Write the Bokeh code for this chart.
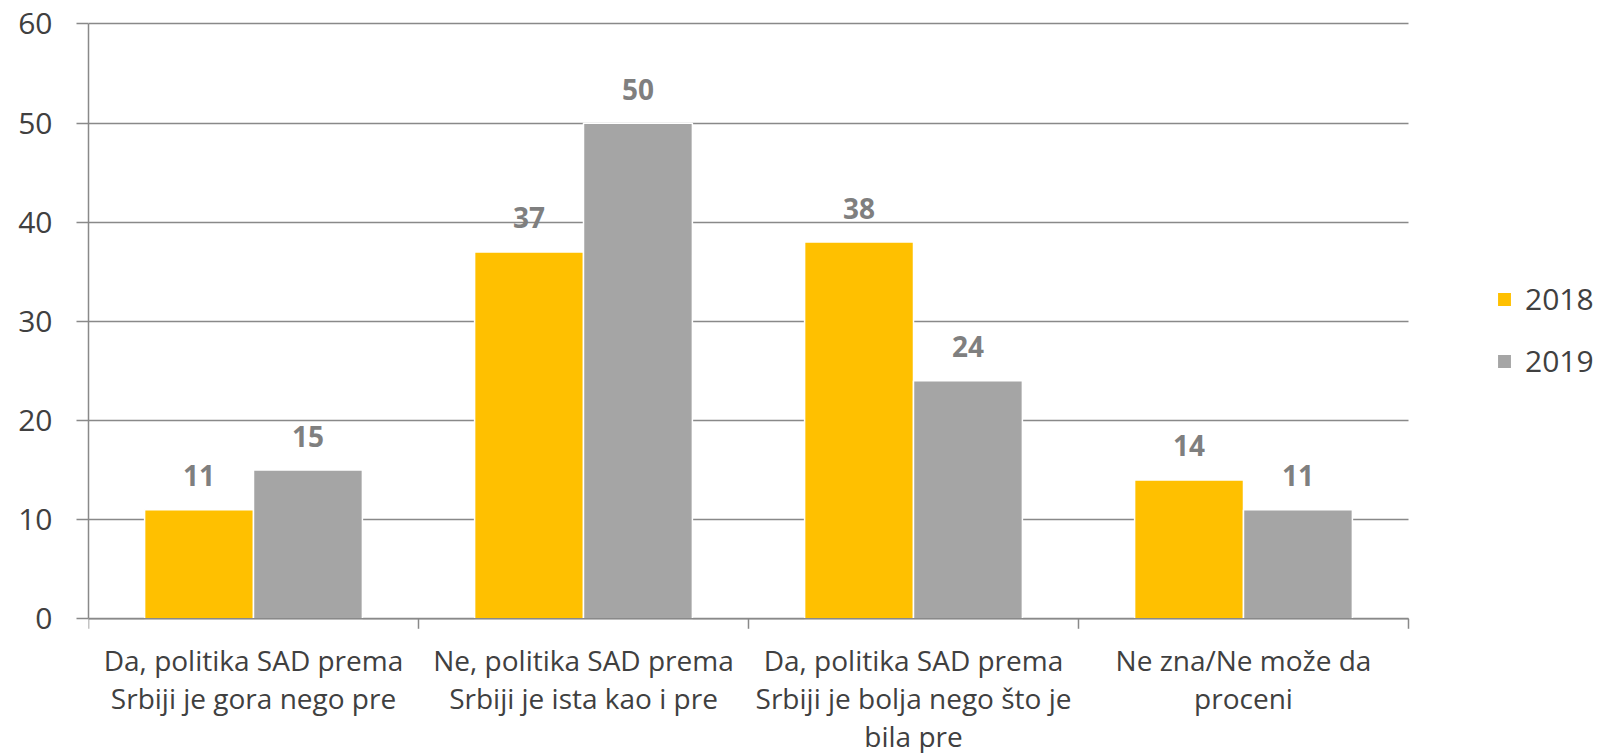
import math
from bokeh.plotting import figure
from bokeh.models import (ColumnDataSource, FixedTicker, Legend, LegendItem, Range1d, Grid)
from bokeh.core.properties import value
from bokeh.embed import file_html
from bokeh.resources import INLINE

categories = [
    "Da, politika SAD prema\nSrbiji je gora nego pre",
    "Ne, politika SAD prema\nSrbiji je ista kao i pre",
    "Da, politika SAD prema\nSrbiji je bolja nego što je\nbila pre",
    "Ne zna/Ne može da\nproceni",
]
series_names = ["2018", "2019"]
values_2018 = [11, 37, 38, 14]
values_2019 = [15, 50, 24, 11]
y_ticks = [0, 10, 20, 30, 40, 50, 60]

COL_2018 = "#FFC000"
COL_2019 = "#A5A5A5"
GRID = "#898989"
TXT = "#404040"
LBL = "#7F7F7F"
FONT = "Open Sans"

n = len(categories)
centers = [i + 0.5 for i in range(n)]
bounds_x = list(range(n + 1))
bw = 0.33

W, H = 1599, 753
p = figure(width=W, height=H, output_backend="svg", toolbar_location=None,
           x_axis_location=None,
           x_range=Range1d(0, 4.5788), y_range=Range1d(-13.59, 62.37),
           min_border_left=88, min_border_right=0, min_border_top=0,
           min_border_bottom=0)
p.outline_line_color = None
p.background_fill_color = "white"
p.border_fill_color = "white"

# grid
p.xgrid.visible = False
if "cross_bounds" in Grid.properties():
    p.ygrid.ticker = FixedTicker(ticks=y_ticks)
    p.ygrid.cross_bounds = (0, n)
    p.ygrid.grid_line_color = GRID
    p.ygrid.grid_line_width = 1.5
else:
    p.ygrid.visible = False
    p.segment(x0=[0] * len(y_ticks), x1=[n] * len(y_ticks), y0=y_ticks, y1=y_ticks,
              line_color=GRID, line_width=1.5, level="underlay")

src18 = ColumnDataSource(dict(x=[c - bw / 2 for c in centers], top=values_2018,
                              lab=[str(v) for v in values_2018]))
src19 = ColumnDataSource(dict(x=[c + bw / 2 for c in centers], top=values_2019,
                              lab=[str(v) for v in values_2019]))

r18 = p.vbar(x="x", top="top", width=bw, bottom=0, source=src18,
             fill_color=COL_2018, line_color="white", line_width=1.5)
r19 = p.vbar(x="x", top="top", width=bw, bottom=0, source=src19,
             fill_color=COL_2019, line_color="white", line_width=1.5)

# category axis baseline and boundary ticks
p.segment(x0=[0], x1=[n], y0=[0], y1=[0], line_color=GRID, line_width=1.5)
p.ray(x=bounds_x, y=[0] * len(bounds_x), length=10, length_units="screen",
      angle=-math.pi / 2, line_color=GRID, line_width=1.5)

# category labels
p.text(x=centers, y=[0] * n, text=categories, y_offset=22,
       text_align="center", text_baseline="top", text_line_height=1.0,
       text_font=value(FONT), text_font_size="28px", text_color=TXT)

# value labels
for s in (src18, src19):
    p.text(x="x", y="top", text="lab", source=s, y_offset=-34,
           text_align="center", text_baseline="alphabetic",
           text_font=value(FONT), text_font_style="bold",
           text_font_size="28px", text_color=LBL)

# y axis
p.yaxis.ticker = FixedTicker(ticks=y_ticks)
p.yaxis.bounds = (0, 60)
p.yaxis.axis_line_color = GRID
p.yaxis.axis_line_width = 1.5
p.yaxis.major_tick_line_color = GRID
p.yaxis.major_tick_line_width = 1.5
p.yaxis.major_tick_out = 12
p.yaxis.major_tick_in = 0
p.yaxis.minor_tick_line_color = None
p.yaxis.major_label_text_font = FONT
p.yaxis.major_label_text_font_size = "30px"
p.yaxis.major_label_text_color = TXT
p.yaxis.major_label_standoff = 24

legend = Legend(items=[LegendItem(label=series_names[0], renderers=[r18]),
                       LegendItem(label=series_names[1], renderers=[r19])],
                location=(1407, 372))
legend.border_line_color = None
legend.background_fill_alpha = 0
legend.padding = 0
legend.margin = 0
legend.glyph_width = 18
legend.glyph_height = 18
legend.label_height = 40
legend.label_standoff = 12
legend.spacing = 21
legend.label_text_font = FONT
legend.label_text_font_size = "30px"
legend.label_text_color = TXT
p.add_layout(legend)

open("out.html", "w").write(file_html(p, INLINE))
